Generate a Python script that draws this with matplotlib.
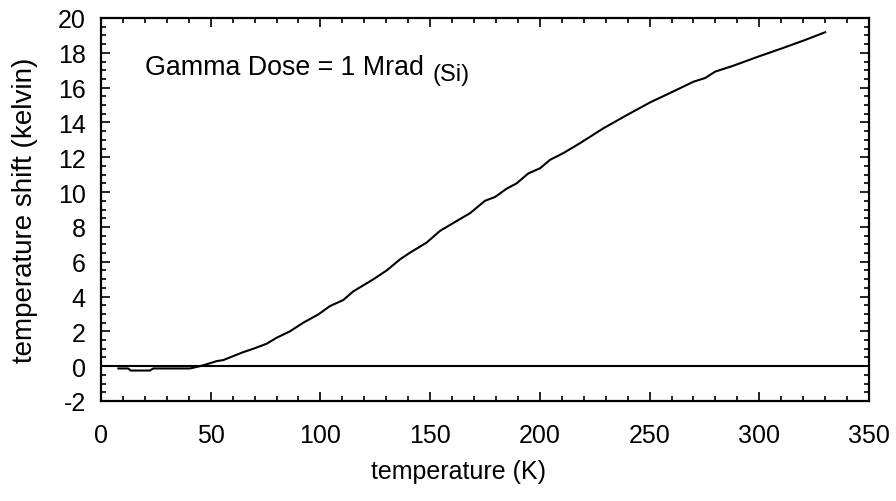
import matplotlib
matplotlib.use("Agg")
import matplotlib.pyplot as plt
from matplotlib.ticker import MultipleLocator

plt.rcParams['font.family'] = ['Liberation Sans', 'DejaVu Sans']
plt.rcParams['axes.unicode_minus'] = False

temperature = [7.9, 12.4, 13.5, 22.3, 23.8, 40.6, 45.1, 48.9, 52.7, 55.7, 60.3, 64.9,
               69.4, 75.5, 80.0, 86.1, 92.2, 99.0, 104.3, 110.4, 115.0, 124.1, 130.2,
               136.3, 140.8, 148.4, 154.5, 162.1, 168.2, 175.0, 179.6, 184.9, 189.4,
               194.7, 200.1, 204.6, 210.7, 218.3, 228.9, 239.6, 250.2, 259.3, 270.0,
               275.3, 279.9, 288.2, 298.8, 309.5, 320.1, 330.0]
shift = [-0.13, -0.13, -0.25, -0.25, -0.13, -0.13, 0.0, 0.14, 0.29, 0.35, 0.58, 0.81,
         1.0, 1.29, 1.63, 2.0, 2.5, 2.97, 3.45, 3.8, 4.3, 4.99, 5.5,
         6.14, 6.52, 7.1, 7.77, 8.34, 8.79, 9.5, 9.72, 10.2, 10.5,
         11.07, 11.37, 11.85, 12.24, 12.81, 13.66, 14.42, 15.15, 15.69, 16.34,
         16.55, 16.92, 17.26, 17.75, 18.22, 18.7, 19.18]

xticks = [0, 50, 100, 150, 200, 250, 300, 350]
yticks = [-2, 0, 2, 4, 6, 8, 10, 12, 14, 16, 18, 20]

W, H = 896, 502
fig = plt.figure(figsize=(W / 100, H / 100), dpi=100)
ax = fig.add_axes([101 / W, 1 - 402 / H, (869 - 101) / W, (402 - 19) / H])

ax.plot(temperature, shift, color='black', lw=1.5)
ax.axhline(0, color='black', lw=1.5)

ax.set_xlim(0, 350)
ax.set_ylim(-2, 20)
ax.set_xticks(xticks)
ax.set_yticks(yticks)
ax.xaxis.set_minor_locator(MultipleLocator(10))
ax.yaxis.set_minor_locator(MultipleLocator(0.5))
ax.tick_params(which='both', direction='in', top=True, right=True, width=1.2)
ax.tick_params(which='major', length=6.5, labelsize=18)
ax.tick_params(axis='x', which='major', pad=16)
ax.tick_params(axis='y', which='major', pad=11)
ax.tick_params(which='minor', length=3.5)
for s in ax.spines.values():
    s.set_linewidth(1.6)

fig.text(25 / W, 1 - 210 / H, 'temperature shift (kelvin)', rotation=90,
         ha='center', va='center', fontsize=20)
fig.text(458 / W, 1 - 472 / H, 'temperature (K)', ha='center', va='center', fontsize=18)

fig.text(145 / W, 1 - 68 / H, 'Gamma Dose = 1 Mrad', ha='left', va='center', fontsize=19.3)
fig.text(432 / W, 1 - 75 / H, '(Si)', ha='left', va='center', fontsize=17)

fig.savefig('out.png', dpi=100)
